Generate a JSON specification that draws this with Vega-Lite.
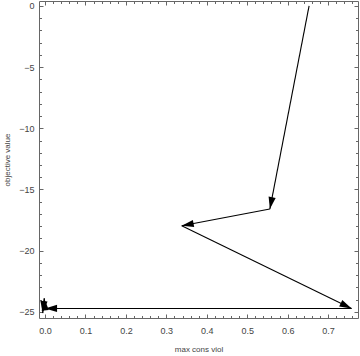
{
  "$schema": "https://vega.github.io/schema/vega-lite/v6.json",
  "width": 319,
  "height": 317,
  "autosize": {"type": "none"},
  "padding": {"left": 39, "top": 1, "right": 2, "bottom": 38},
  "background": "white",
  "config": {"view": {"stroke": "#666", "strokeWidth": 1}},
  "data": {
    "values": [
      {"step": 1, "viol": 0.653, "obj": 0.0},
      {"step": 2, "viol": 0.556, "obj": -16.6},
      {"step": 3, "viol": 0.338, "obj": -17.96},
      {"step": 4, "viol": 0.758, "obj": -24.72},
      {"step": 5, "viol": 0.0, "obj": -24.72},
      {"step": 6, "viol": -0.002, "obj": -23.9},
      {"step": 7, "viol": -0.006, "obj": -25.1}
    ]
  },
  "transform": [
    {"window": [{"op": "lead", "field": "viol", "as": "viol2"}, {"op": "lead", "field": "obj", "as": "obj2"}], "sort": [{"field": "step"}]},
    {"filter": "datum.viol2 != null"},
    {"calculate": "atan2(-(datum.obj2 - datum.obj) * 317 / 25.9, (datum.viol2 - datum.viol) * 319 / 0.789) * 180 / PI", "as": "ang"}
  ],
  "layer": [
    {
      "mark": {"type": "rule", "color": "black", "strokeWidth": 1.1},
      "encoding": {
        "x": {
          "field": "viol", "type": "quantitative",
          "scale": {"domain": [-0.015, 0.774], "nice": false, "zero": false},
          "axis": {
            "orient": "bottom",
            "values": [0,0.02,0.04,0.06,0.08,0.1,0.12,0.14,0.16,0.18,0.2,0.22,0.24,0.26,0.28,0.3,0.32,0.34,0.36,0.38,0.4,0.42,0.44,0.46,0.48,0.5,0.52,0.54,0.56,0.58,0.6,0.62,0.64,0.66,0.68,0.7,0.72,0.74,0.76],
            "tickSize": {"condition": {"test": "abs(datum.value*10 - round(datum.value*10)) < 0.000001", "value": -4}, "value": -2.5},
            "labelExpr": "abs(datum.value*10 - round(datum.value*10)) < 0.000001 ? format(datum.value, '.1f') : ''",
            "labelPadding": 12,
            "labelFont": "Liberation Sans", "labelFontSize": 9, "labelColor": "#444",
            "labelFlush": false, "labelOverlap": false,
            "tickColor": "#666", "domain": false, "grid": false,
            "title": "max cons viol", "titleFont": "Liberation Sans", "titleFontSize": 8,
            "titleFontWeight": "normal", "titleColor": "#444", "titlePadding": 9
          }
        },
        "y": {
          "field": "obj", "type": "quantitative",
          "scale": {"domain": [-25.5, 0.4], "nice": false, "zero": false},
          "axis": {
            "orient": "left",
            "values": [-25,-24,-23,-22,-21,-20,-19,-18,-17,-16,-15,-14,-13,-12,-11,-10,-9,-8,-7,-6,-5,-4,-3,-2,-1,0],
            "tickSize": {"condition": {"test": "datum.value % 5 == 0", "value": -4}, "value": -2.5},
            "labelExpr": "datum.value % 5 == 0 ? format(datum.value, 'd') : ''",
            "labelPadding": 9,
            "labelFont": "Liberation Sans", "labelFontSize": 9, "labelColor": "#444",
            "labelFlush": false, "labelOverlap": false,
            "tickColor": "#666", "domain": false, "grid": false,
            "title": "objective value", "titleFont": "Liberation Sans", "titleFontSize": 8,
            "titleFontWeight": "normal", "titleColor": "#444", "titlePadding": 7
          }
        },
        "x2": {"field": "viol2"},
        "y2": {"field": "obj2"}
      }
    },
    {
      "mark": {"type": "point", "filled": true, "shape": "M0,0L-2,-0.6L-2,0.6Z", "size": 144, "color": "black", "opacity": 1, "strokeWidth": 0},
      "encoding": {
        "x": {
          "field": "viol2", "type": "quantitative",
          "scale": {"domain": [-0.015, 0.774], "nice": false, "zero": false},
          "axis": {
            "orient": "top",
            "values": [0,0.02,0.04,0.06,0.08,0.1,0.12,0.14,0.16,0.18,0.2,0.22,0.24,0.26,0.28,0.3,0.32,0.34,0.36,0.38,0.4,0.42,0.44,0.46,0.48,0.5,0.52,0.54,0.56,0.58,0.6,0.62,0.64,0.66,0.68,0.7,0.72,0.74,0.76],
            "tickSize": {"condition": {"test": "abs(datum.value*10 - round(datum.value*10)) < 0.000001", "value": -4}, "value": -2.5},
            "labels": false, "tickColor": "#666", "domain": false, "grid": false, "title": null
          }
        },
        "y": {
          "field": "obj2", "type": "quantitative",
          "scale": {"domain": [-25.5, 0.4], "nice": false, "zero": false},
          "axis": {
            "orient": "right",
            "values": [-25,-24,-23,-22,-21,-20,-19,-18,-17,-16,-15,-14,-13,-12,-11,-10,-9,-8,-7,-6,-5,-4,-3,-2,-1,0],
            "tickSize": {"condition": {"test": "datum.value % 5 == 0", "value": -4}, "value": -2.5},
            "labels": false, "tickColor": "#666", "domain": false, "grid": false, "title": null
          }
        },
        "angle": {"field": "ang", "type": "quantitative", "scale": null}
      }
    }
  ],
  "resolve": {"axis": {"x": "independent", "y": "independent"}}
}
